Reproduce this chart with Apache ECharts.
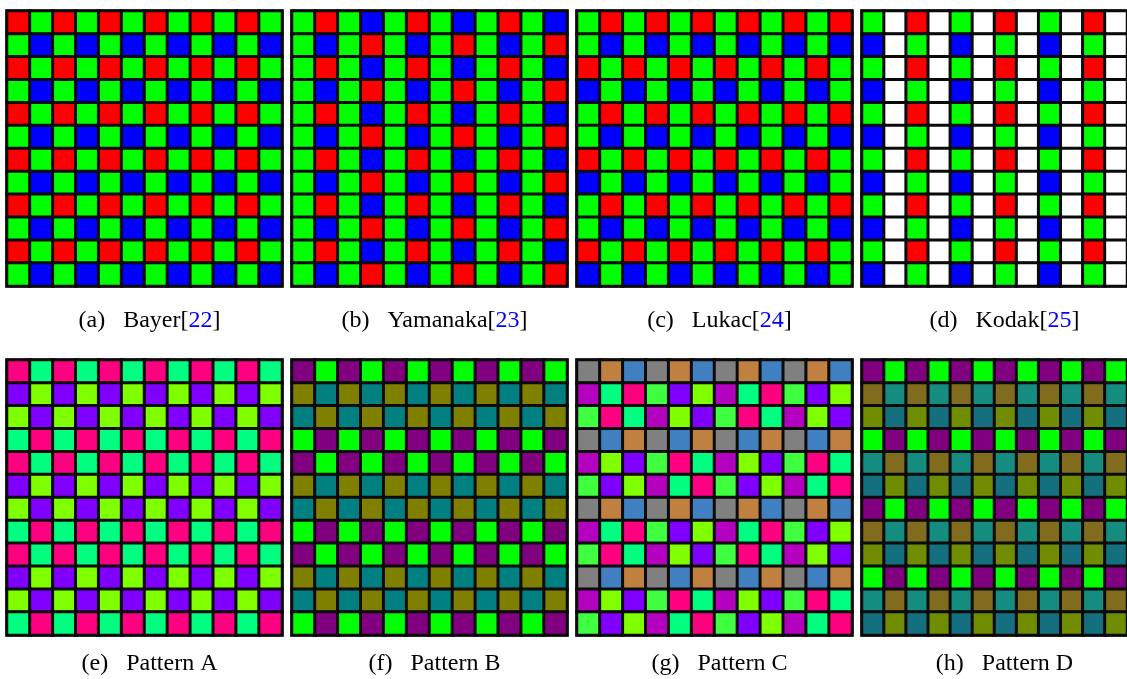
<!DOCTYPE html>
<html>
<head>
<meta charset="utf-8">
<script src="https://cdn.jsdelivr.net/npm/echarts@6/dist/echarts.min.js"></script>
<style>
html,body{margin:0;padding:0;background:#fff;}
#chart{width:1127px;height:679px;}
</style>
</head>
<body>
<div id="chart"></div>
<script>
// ---- Data: 12x12 colour filter arrays, one letter per cell (row 0 = top) ----
const bayerRows = [
  "RGRGRGRGRGRG","GBGBGBGBGBGB","RGRGRGRGRGRG","GBGBGBGBGBGB",
  "RGRGRGRGRGRG","GBGBGBGBGBGB","RGRGRGRGRGRG","GBGBGBGBGBGB",
  "RGRGRGRGRGRG","GBGBGBGBGBGB","RGRGRGRGRGRG","GBGBGBGBGBGB"];
const yamanakaRows = [
  "GRGBGRGBGRGB","GBGRGBGRGBGR","GRGBGRGBGRGB","GBGRGBGRGBGR",
  "GRGBGRGBGRGB","GBGRGBGRGBGR","GRGBGRGBGRGB","GBGRGBGRGBGR",
  "GRGBGRGBGRGB","GBGRGBGRGBGR","GRGBGRGBGRGB","GBGRGBGRGBGR"];
const lukacRows = [
  "GRGRGRGRGRGR","GBGBGBGBGBGB","RGRGRGRGRGRG","BGBGBGBGBGBG",
  "GRGRGRGRGRGR","GBGBGBGBGBGB","RGRGRGRGRGRG","BGBGBGBGBGBG",
  "GRGRGRGRGRGR","GBGBGBGBGBGB","RGRGRGRGRGRG","BGBGBGBGBGBG"];
const kodakRows = [
  "GWRWGWRWGWRW","BWGWBWGWBWGW","GWRWGWRWGWRW","BWGWBWGWBWGW",
  "GWRWGWRWGWRW","BWGWBWGWBWGW","GWRWGWRWGWRW","BWGWBWGWBWGW",
  "GWRWGWRWGWRW","BWGWBWGWBWGW","GWRWGWRWGWRW","BWGWBWGWBWGW"];
const patternARows = [
  "PSPSPSPSPSPS","VCVCVCVCVCVC","CVCVCVCVCVCV","SPSPSPSPSPSP",
  "PSPSPSPSPSPS","VCVCVCVCVCVC","CVCVCVCVCVCV","SPSPSPSPSPSP",
  "PSPSPSPSPSPS","VCVCVCVCVCVC","CVCVCVCVCVCV","SPSPSPSPSPSP"];
const patternBRows = [
  "MLMLMLMLMLML","OTOTOTOTOTOT","TOTOTOTOTOTO","LMLMLMLMLMLM",
  "MLMLMLMLMLML","OTOTOTOTOTOT","TOTOTOTOTOTO","LMLMLMLMLMLM",
  "MLMLMLMLMLML","OTOTOTOTOTOT","TOTOTOTOTOTO","LMLMLMLMLMLM"];
const patternCRows = [
  "ANEANEANEANE","MSPGVCMSPGVC","GPSMCVGPSMCV","AENAENAENAEN",
  "MCVGPSMCVGPS","GVCMSPGVCMSP","ANEANEANEANE","MSPGVCMSPGVC",
  "GPSMCVGPSMCV","AENAENAENAEN","MCVGPSMCVGPS","GVCMSPGVCMSP"];
const patternDRows = [
  "MLMLMLMLMLML","OTOTOTOTOTOT","YUYUYUYUYUYU","LMLMLMLMLMLM",
  "TOTOTOTOTOTO","UYUYUYUYUYUY","MLMLMLMLMLML","OTOTOTOTOTOT",
  "YUYUYUYUYUYU","LMLMLMLMLMLM","TOTOTOTOTOTO","UYUYUYUYUYUY"];

// colour keys per pattern
const rgbColors = {R:'#ff0000', G:'#00ff00', B:'#0000ff', W:'#ffffff'};
const patternAColors = {P:'#ff0080', S:'#00ff80', V:'#8000ff', C:'#80ff00'};
const patternBColors = {M:'#800080', L:'#00ff00', O:'#808000', T:'#008080'};
const patternCColors = {A:'#808080', N:'#c08040', E:'#4080c0', M:'#b400bf',
  S:'#00ff80', P:'#ff0080', G:'#40ff40', V:'#8000ff', C:'#80ff00'};
const patternDColors = {M:'#800080', L:'#00ff00', O:'#806c1c', T:'#148c80',
  Y:'#708c00', U:'#14707f'};

// caption labels
const captionLabels = ["(a)","(b)","(c)","(d)","(e)","(f)","(g)","(h)"];
const captionNames = ["Bayer","Yamanaka","Lukac","Kodak","Pattern A","Pattern B","Pattern C","Pattern D"];
const captionRefs = ["22","23","24","25","","","",""];

const panels = [
  [bayerRows, rgbColors], [yamanakaRows, rgbColors], [lukacRows, rgbColors], [kodakRows, rgbColors],
  [patternARows, patternAColors], [patternBRows, patternBColors], [patternCRows, patternCColors], [patternDRows, patternDColors]
];

// ---- Layout ----
const colLeft = [7, 292, 577, 862];
const rowTop = [11, 360];
const size = 275;
const capTop = [304, 647];
const idx = [0,1,2,3,4,5,6,7,8,9,10,11].map(String);

const grids = [], xAxes = [], yAxes = [], series = [], titles = [];
panels.forEach(([rows, colors], p) => {
  const c = p % 4, r = Math.floor(p / 4);
  grids.push({left: colLeft[c], top: rowTop[r], width: size, height: size,
    show: true, borderColor: '#000', borderWidth: 3, backgroundColor: 'transparent'});
  const ax = {type:'category', data: idx, gridIndex: p, axisLine:{show:false},
    axisTick:{show:false}, axisLabel:{show:false}, splitLine:{show:false}};
  xAxes.push(Object.assign({}, ax));
  yAxes.push(Object.assign({}, ax, {inverse: true}));
  const data = [];
  rows.forEach((row, y) => {
    row.split('').forEach((k, x) => {
      data.push({value: [x, y, 1], itemStyle: {color: colors[k]}});
    });
  });
  series.push({type:'heatmap', xAxisIndex: p, yAxisIndex: p, data,
    itemStyle:{borderColor:'#0a0a0a', borderWidth:3},
    emphasis:{disabled:true}, silent:true, animation:false});
  const ref = captionRefs[p];
  const text = captionLabels[p] + '\u2002 ' + captionNames[p] + (ref ? '[{n|' + ref + '}]' : '');
  titles.push({text, left: colLeft[c] + size/2, top: capTop[r], textAlign: 'center',
    textStyle:{fontFamily:'Liberation Serif', fontSize:24, fontWeight:'normal', color:'#000',
      rich:{n:{fontFamily:'Liberation Serif', fontSize:24, color:'#0000ff'}}}});
});

const chart = echarts.init(document.getElementById('chart'), null, {renderer:'canvas'});
chart.setOption({
  animation: false,
  backgroundColor: '#fff',
  title: titles,
  grid: grids,
  xAxis: xAxes,
  yAxis: yAxes,
  series
});
</script>
</body>
</html>
